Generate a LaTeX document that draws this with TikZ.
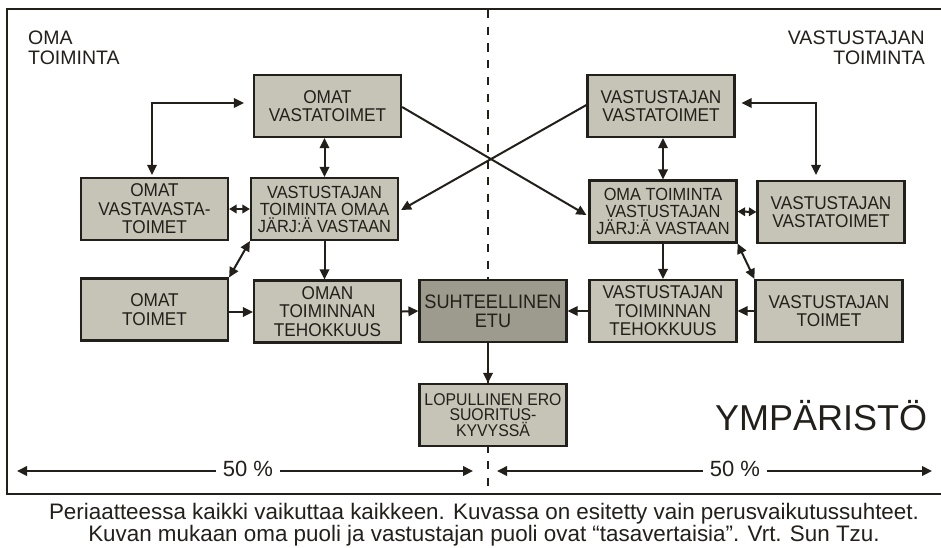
\documentclass[tikz,border=0pt]{standalone}
\usepackage{fontspec}
\setmainfont{Liberation Sans}
\newfontfamily\boxfont{Liberation Sans}[FakeStretch=0.93]
\usetikzlibrary{arrows.meta}
\definecolor{ink}{RGB}{35,31,26}
\definecolor{boxfill}{RGB}{197,196,183}
\definecolor{darkfill}{RGB}{157,155,141}
\begin{document}
\begin{tikzpicture}[x=1pt,y=-1pt,
  box/.style={draw=ink, line width=2.2pt, fill=boxfill, minimum width=147pt,
    minimum height=62pt, inner sep=0pt, align=center, text=ink,
    font=\boxfont\fontsize{18.5}{18.5}\selectfont},
  tightbox/.style={box, font=\boxfont\fontsize{17.6}{17}\selectfont},
  smallbox/.style={box, font=\boxfont\fontsize{17}{15.2}\selectfont},
  keybox/.style={box, fill=darkfill, font=\boxfont\fontsize{19.5}{19}\selectfont},
  conn/.style={draw=ink, line width=2pt},
  arr/.style={conn, -{Triangle[length=10pt,width=9.5pt]}},
  dbl/.style={conn, {Triangle[length=10pt,width=9.5pt]}-{Triangle[length=10pt,width=9.5pt]}},
  shortdbl/.style={conn, {Triangle[length=7.5pt,width=8.5pt]}-{Triangle[length=7.5pt,width=8.5pt]}},
  label/.style={text=ink, inner sep=0pt, font=\fontsize{19.5}{20}\selectfont},
  pct/.style={text=ink, inner sep=7pt, font=\fontsize{22}{24}\selectfont},
]
\useasboundingbox (0,0) rectangle (941,547);
\fill[white] (0,0) rectangle (941,547);

% frame, open on the right
\draw[ink, line width=2.6pt] (941,9) -- (7,9) -- (7,494) -- (941,494);
% dividing line between the two sides
\draw[ink, line width=2pt, dash pattern=on 8.3pt off 8.4pt] (488,10) -- (488,490);

% side headings
\node[label, anchor=north west, align=left] (own) at (28,31) {OMA\\TOIMINTA};
\node[label, anchor=north east, align=right] (opp) at (925,31) {VASTUSTAJAN\\TOIMINTA};

% own side
\node[box] (omvt) at (327.5,106) {OMAT\\VASTATOIMET};
\node[box] (omvv) at (154.5,209) {OMAT\\VASTAVASTA-\\TOIMET};
\node[tightbox] (vtoj) at (324.5,209) {VASTUSTAJAN\\TOIMINTA OMAA\\JÄRJ:Ä VASTAAN};
\node[box] (omt) at (154.5,309.5) {OMAT\\TOIMET};
\node[box] (omte) at (327.5,311.5) {OMAN\\TOIMINNAN\\TEHOKKUUS};

% centre
\node[keybox] (suh) at (493,311) {SUHTEELLINEN\\ETU};
\node[smallbox] (lop) at (493,415) {LOPULLINEN ERO\\SUORITUS-\\KYVYSSÄ};

% opponent side
\node[box] (vvt) at (661,106) {VASTUSTAJAN\\VASTATOIMET};
\node[tightbox] (otvj) at (663,211.5) {OMA TOIMINTA\\VASTUSTAJAN\\JÄRJ:Ä VASTAAN};
\node[box] (vvt2) at (831,212) {VASTUSTAJAN\\VASTATOIMET};
\node[box] (vtte) at (663,311) {VASTUSTAJAN\\TOIMINNAN\\TEHOKKUUS};
\node[box] (vt) at (829,311) {VASTUSTAJAN\\TOIMET};

% environment
\node[text=ink, inner sep=0pt, anchor=base west, font=\fontsize{36}{40}\selectfont] (env) at (715,430) {YMPÄRISTÖ};

% own side connectors
\draw[dbl] (vtoj.north) -- (vtoj.north |- omvt.south);
\draw[dbl] ([xshift=-9pt,yshift=3pt]omvt.west) -| ([xshift=-2.5pt,yshift=2pt]omvv.north);
\draw[shortdbl] (omvv.east) -- (vtoj.west);
\draw[arr] (vtoj.south) -- (vtoj.south |- omte.north);
\draw[dbl] (vtoj.south west) -- (omt.north east);
\draw[arr] ([yshift=-2.5pt]omt.east) -- ([yshift=-2.5pt]omt.east -| omte.west);
\draw[arr] (omte.east) -- (suh.west);

% crossing influences
\draw[arr] ([yshift=-1pt]omvt.east) -- ([xshift=-2pt,yshift=-3.5pt]otvj.west);
\draw[arr] ([yshift=1pt]vvt.west) -- ([xshift=2pt,yshift=-1pt]vtoj.east);

% opponent side connectors
\draw[dbl] (otvj.north) -- (otvj.north |- vvt.south);
\draw[dbl] ([xshift=6pt,yshift=3pt]vvt.east) -| ([xshift=-15pt,yshift=5pt]vvt2.north);
\draw[shortdbl] (otvj.east) -- (vvt2.west);
\draw[arr] (otvj.south) -- (vtte.north);
\draw[dbl] (otvj.south east) -- (vt.north west);
\draw[arr] (vt.west) -- (vtte.east);
\draw[arr] (vtte.west) -- (suh.east);

% outcome
\draw[arr] ([xshift=-5pt]suh.south) -- ([xshift=-5pt]lop.north);

% shares of the whole
\coordinate (l1) at (17,471);
\coordinate (l2) at (473,471);
\coordinate (r1) at (497,471);
\coordinate (r2) at (932,471);
\node[pct] (pl) at (248,469) {50 \%};
\node[pct] (pr) at (735,469) {50 \%};
\draw[arr] (pl.west |- l1) -- (l1);
\draw[arr] (pl.east |- l2) -- (l2);
\draw[arr] (pr.west |- r1) -- (r1);
\draw[arr] (pr.east |- r2) -- (r2);

% caption
\node[text=ink, inner sep=0pt, align=center, anchor=base, font=\fontsize{22.4}{22}\selectfont] (cap) at (484,541)
  {Periaatteessa kaikki vaikuttaa kaikkeen. Kuvassa on esitetty vain perusvaikutussuhteet.\\
   Kuvan mukaan oma puoli ja vastustajan puoli ovat “tasavertaisia”. Vrt. Sun Tzu.};
\end{tikzpicture}
\end{document}
